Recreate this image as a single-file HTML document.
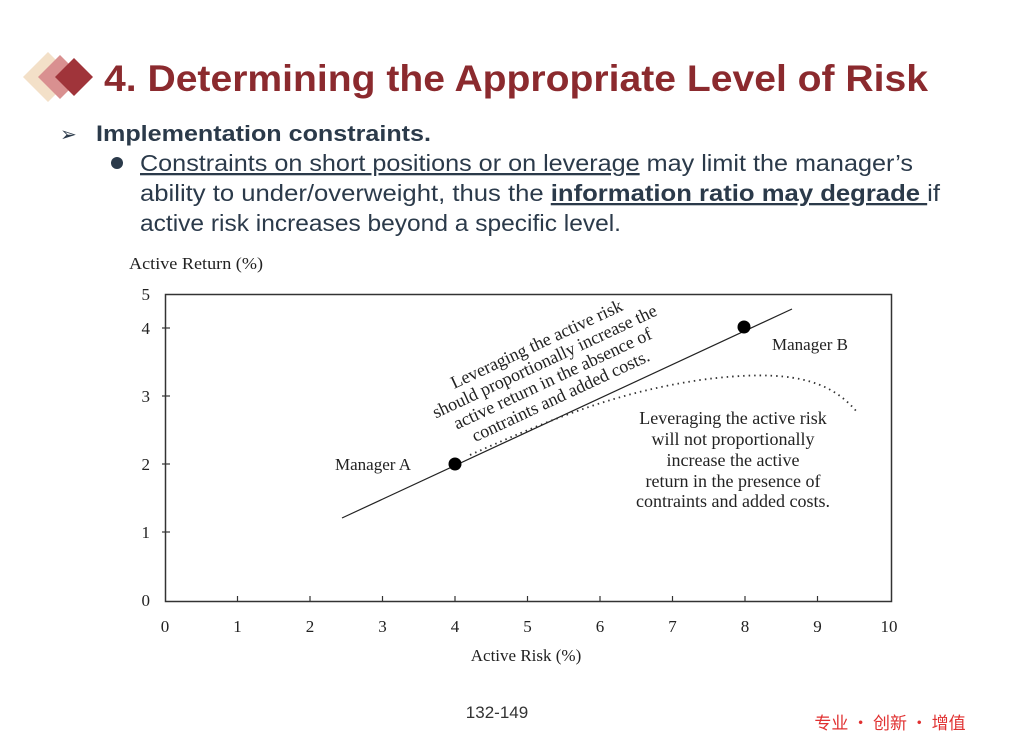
<!DOCTYPE html>
<html><head><meta charset="utf-8"><style>
html,body{margin:0;padding:0;background:#fff;}
body{width:1009px;height:741px;overflow:hidden;position:relative;font-family:"Liberation Sans","Noto Sans CJK SC",sans-serif;}
</style></head><body>
<svg width="1009" height="741" style="position:absolute;left:0;top:0">
  <polygon points="23,77 48,52 73,77 48,102" fill="#f3e0c8"/>
  <polygon points="38,77 60,55 82,77 60,99" fill="#d99090"/>
  <polygon points="55,77 74,58 93,77 74,96" fill="#a0343a"/>
  <text x="104" y="91" font-family="Liberation Sans,sans-serif" font-weight="bold" font-size="37" fill="#8b2a2e" textLength="824" lengthAdjust="spacingAndGlyphs">4. Determining the Appropriate Level of Risk</text>
  <text x="60" y="141" font-size="20" fill="#2b3a4a">➢</text>
  <text x="96" y="141" font-family="Liberation Sans,sans-serif" font-weight="bold" font-size="22" fill="#2b3a4a" textLength="335" lengthAdjust="spacingAndGlyphs">Implementation constraints.</text>
  <circle cx="117" cy="163" r="6" fill="#2b3a4a"/>
  <g font-family="Liberation Sans,sans-serif" font-size="23" fill="#2b3a4a">
    <text x="140" y="171" textLength="773" lengthAdjust="spacingAndGlyphs"><tspan text-decoration="underline">Constraints on short positions or on leverage</tspan> may limit the manager’s</text>
    <text x="140" y="201" textLength="800" lengthAdjust="spacingAndGlyphs">ability to under/overweight, thus the <tspan font-weight="bold" text-decoration="underline">information ratio may degrade </tspan>if</text>
    <text x="140" y="231" textLength="481" lengthAdjust="spacingAndGlyphs">active risk increases beyond a specific level.</text>
  </g>
  <g font-family="Liberation Serif,serif" font-size="17" fill="#222">
    <text x="129" y="269" textLength="134" lengthAdjust="spacingAndGlyphs">Active Return (%)</text>
    <rect x="165.5" y="294.5" width="726" height="307" fill="none" stroke="#333" stroke-width="1.5"/>
    <g stroke="#333" stroke-width="1.2">
      <line x1="162" y1="328" x2="170" y2="328"/><line x1="162" y1="396" x2="170" y2="396"/>
      <line x1="162" y1="464" x2="170" y2="464"/><line x1="162" y1="532" x2="170" y2="532"/>
      <line x1="237.5" y1="596" x2="237.5" y2="602"/><line x1="310" y1="596" x2="310" y2="602"/>
      <line x1="382.5" y1="596" x2="382.5" y2="602"/><line x1="455" y1="596" x2="455" y2="602"/>
      <line x1="527.5" y1="596" x2="527.5" y2="602"/><line x1="600" y1="596" x2="600" y2="602"/>
      <line x1="672.5" y1="596" x2="672.5" y2="602"/><line x1="745" y1="596" x2="745" y2="602"/>
      <line x1="817.5" y1="596" x2="817.5" y2="602"/>
    </g>
    <g text-anchor="end">
      <text x="150" y="300">5</text><text x="150" y="334">4</text><text x="150" y="402">3</text>
      <text x="150" y="470">2</text><text x="150" y="538">1</text><text x="150" y="606">0</text>
    </g>
    <g text-anchor="middle">
      <text x="165" y="632">0</text><text x="237.5" y="632">1</text><text x="310" y="632">2</text>
      <text x="382.5" y="632">3</text><text x="455" y="632">4</text><text x="527.5" y="632">5</text>
      <text x="600" y="632">6</text><text x="672.5" y="632">7</text><text x="745" y="632">8</text>
      <text x="817.5" y="632">9</text><text x="889" y="632">10</text>
      <text x="526" y="661">Active Risk (%)</text>
    </g>
    <line x1="342" y1="518" x2="792" y2="309" stroke="#222" stroke-width="1.2"/>
    <path d="M470,455 C560,415 620,392 700,380 C790,368 830,380 857,412" fill="none" stroke="#333" stroke-width="1.8" stroke-dasharray="1.5 4"/>
    <circle cx="455" cy="464" r="6.5" fill="#000"/>
    <circle cx="744" cy="327" r="6.5" fill="#000"/>
    <text x="335" y="470">Manager A</text>
    <text x="772" y="350">Manager B</text>
    <g transform="translate(550,373) rotate(-25)" text-anchor="middle" font-size="18">
      <text x="0" y="-26">Leveraging the active risk</text>
      <text x="0" y="-7">should proportionally increase the</text>
      <text x="0" y="12">active return in the absence of</text>
      <text x="0" y="31">contraints and added costs.</text>
    </g>
    <g text-anchor="middle" font-size="18">
      <text x="733" y="424">Leveraging the active risk</text>
      <text x="733" y="445">will not proportionally</text>
      <text x="733" y="466">increase the active</text>
      <text x="733" y="487">return in the presence of</text>
      <text x="733" y="507">contraints and added costs.</text>
    </g>
  </g>
  <text x="497" y="718" text-anchor="middle" font-family="Liberation Sans,sans-serif" font-size="17" fill="#333">132-149</text>
  <text x="890" y="729" text-anchor="middle" font-family="Noto Sans CJK SC,sans-serif" font-size="17" fill="#e03030">专业 · 创新 · 增值</text>
</svg>
</body></html>
